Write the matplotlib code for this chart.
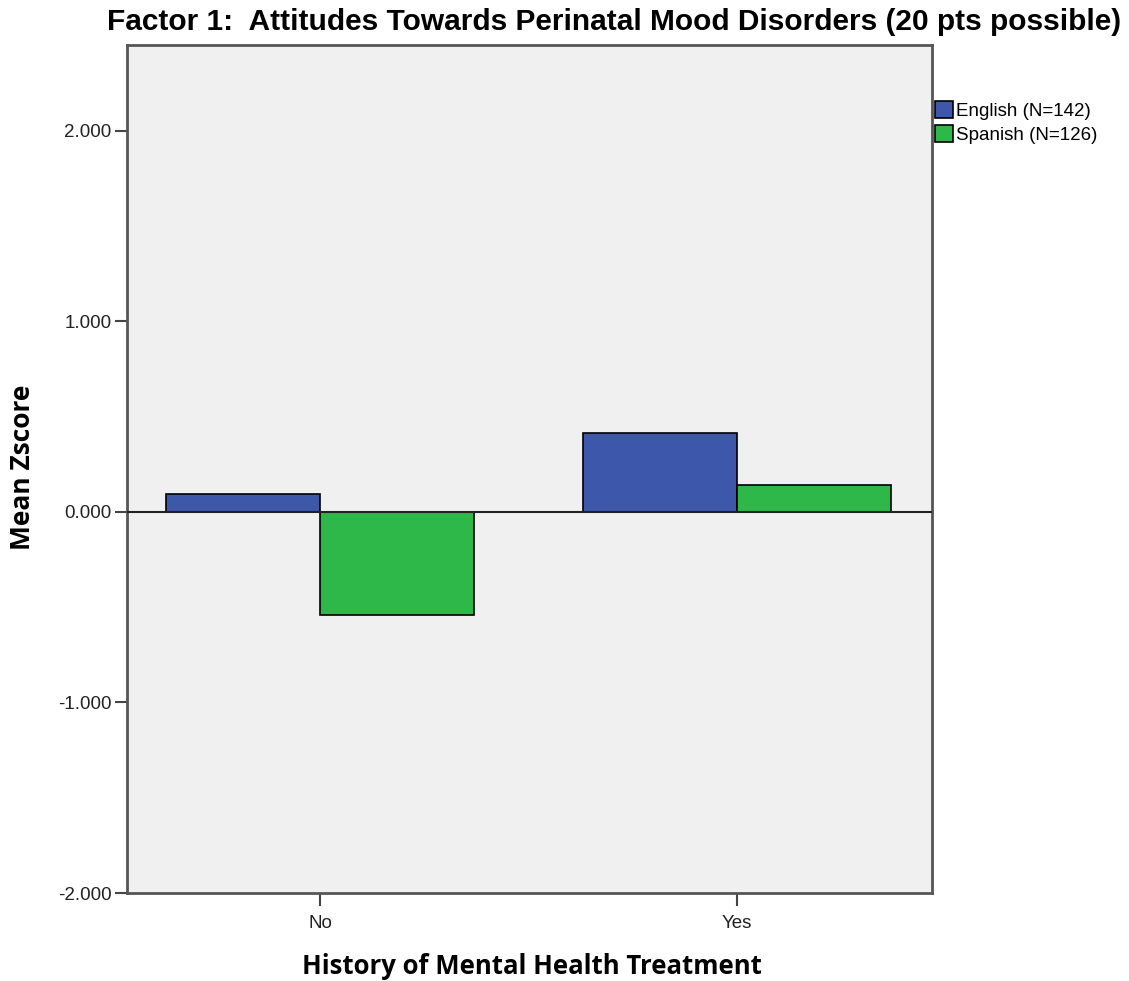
import matplotlib
matplotlib.use("Agg")
import matplotlib.pyplot as plt
import numpy as np
from matplotlib.patches import Patch

categories = ["No", "Yes"]
series_names = ["English (N=142)", "Spanish (N=126)"]
english = [0.094, 0.413]
spanish = [-0.540, 0.142]
yticks = [-2.0, -1.0, 0.0, 1.0, 2.0]
colors = ["#3D57AA", "#2EB84A"]

plt.rcParams["font.family"] = ["Liberation Sans", "DejaVu Sans"]

fig = plt.figure(figsize=(11.29, 9.81), dpi=100)
ax = fig.add_axes([127/1129, 1-893/981, (932-127)/1129, (893-45)/981])
ax.set_facecolor("#F0F0F0")

x = np.arange(len(categories))
w = 0.37
ax.bar(x - w/2, english, w, color=colors[0], edgecolor="black", linewidth=1.2, zorder=3)
ax.bar(x + w/2, spanish, w, color=colors[1], edgecolor="black", linewidth=1.2, zorder=3)
ax.axhline(0, color="#222222", linewidth=1.5, zorder=4)

ax.set_xlim(-0.463, 1.468)
ax.set_ylim(-2.0, 2.45)
ax.set_yticks(yticks)
ax.set_yticklabels([f"{v:.3f}" for v in yticks])
ax.set_xticks(x)
ax.set_xticklabels(categories)
ax.tick_params(axis="both", labelsize=13.5, color="#444444", width=1.5, length=9, labelcolor="#222222")
ax.tick_params(axis="x", pad=7)
ax.tick_params(axis="y", pad=2)
for s in ax.spines.values():
    s.set_color("#555555")
    s.set_linewidth(2)

lab_font = ["Open Sans", "DejaVu Sans"]
ax.set_ylabel("Mean Zscore", fontsize=19, fontweight="bold", family=lab_font, va="center")
ax.yaxis.set_label_coords((23-127)/805, (893-467)/848)
ax.set_xlabel("History of Mental Health Treatment", fontsize=18.5, fontweight="bold", family=lab_font, va="center")
ax.xaxis.set_label_coords((532-127)/805, (893-967)/848)

fig.text(614/1129, 1-22/981, "Factor 1:  Attitudes Towards Perinatal Mood Disorders (20 pts possible)",
         ha="center", va="center", fontsize=21.5, fontweight="bold",
         family=["Liberation Sans Narrow", "Liberation Sans", "DejaVu Sans"])

handles = [Patch(facecolor=c, edgecolor="black", linewidth=1.2) for c in colors]
fig.legend(handles, series_names, loc="upper left", bbox_to_anchor=(933/1129, 1-99/981),
           frameon=False, fontsize=13.5, handlelength=0.95, handleheight=1.0,
           handletextpad=0.2, labelspacing=0.3, borderaxespad=0, borderpad=0.1)

fig.savefig("out.png", dpi=100)
